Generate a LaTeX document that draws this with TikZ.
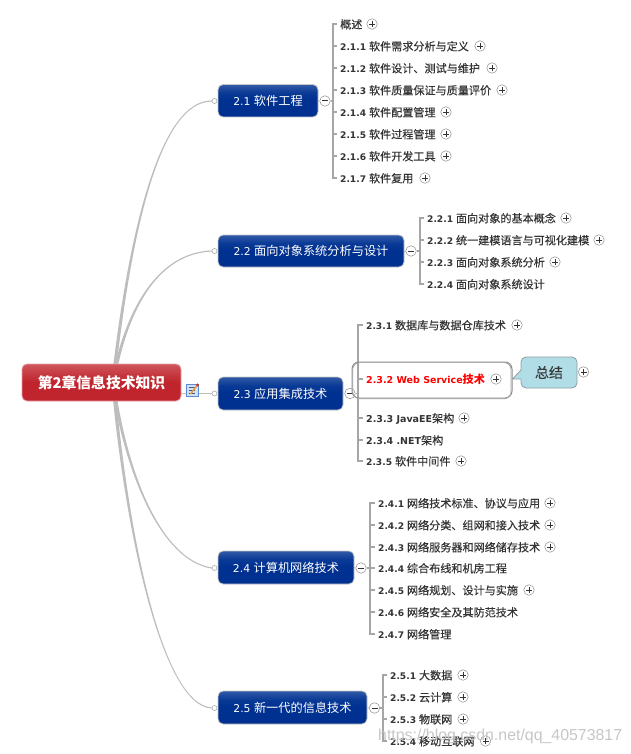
\documentclass[tikz,border=0pt]{standalone}
\usepackage{fontspec}
\setmainfont{DejaVu Sans}
\newfontfamily\cjk{Noto Sans CJK SC}
\newfontfamily\cjkm[FakeBold=0.2]{Noto Sans CJK SC}
\newfontfamily\wmfont{Liberation Sans}
\newcommand\zh[1]{{\cjk #1}}
\newcommand\lz[1]{{\cjkm\fontsize{11.1}{13}\selectfont #1}}
\newcommand\bz[1]{{\cjk\fontsize{12.2}{14}\selectfont #1}}
\newcommand\wl[1]{{\fontsize{9.5}{13}\selectfont\bfseries #1}}
\usetikzlibrary{calc}
\definecolor{trunk}{HTML}{BDBDBD}
\definecolor{btn}{HTML}{8C8C8C}
\definecolor{inktext}{HTML}{333333}
\definecolor{brk}{HTML}{A6A6A6}
\definecolor{bluea}{HTML}{003090}
\definecolor{blueb}{HTML}{0A3A96}
\definecolor{bluec}{HTML}{7D97C6}
\definecolor{reda}{HTML}{C0242C}
\definecolor{redb}{HTML}{C63A42}
\definecolor{redc}{HTML}{E48A90}
\definecolor{redline}{HTML}{E8A0A4}
\definecolor{boxline}{HTML}{C8C8C8}
\definecolor{noteline}{HTML}{5B8BD6}
\definecolor{notefill}{HTML}{CFE0F5}
\definecolor{notetext}{HTML}{555577}
\definecolor{pencil}{HTML}{E0A030}
\definecolor{pencilend}{HTML}{D83020}
\definecolor{hlone}{HTML}{8C8C8C}
\definecolor{hltwo}{HTML}{A6A6A6}
\definecolor{sumline}{HTML}{8E9EA3}
\definecolor{sumfill}{HTML}{B0DDE6}
\definecolor{sumtext}{HTML}{3A3A3A}
\pgfdeclareverticalshading{bluegloss}{100bp}{
  color(0bp)=(bluea); color(50bp)=(bluea); color(62bp)=(blueb); color(100bp)=(bluec)}
\pgfdeclareverticalshading{redgloss}{100bp}{
  color(0bp)=(reda); color(50bp)=(reda); color(62bp)=(redb); color(100bp)=(redc)}
\tikzset{
  x=1pt,y=-1pt,
  rootbox/.style={draw=redline,line width=.8pt,rounded corners=5pt,shading=redgloss,inner sep=0pt,
    text=white,font=\fontsize{14.8}{17}\selectfont\bfseries,align=center},
  branchbox/.style={draw=boxline,line width=.8pt,rounded corners=5pt,shading=bluegloss,inner sep=0pt,
    text=white,font=\fontsize{10.8}{14}\selectfont,align=center},
  leaf/.style={anchor=west,inner sep=0pt,text height=10pt,text depth=1pt,text=inktext,font=\fontsize{9.1}{13}\selectfont},
  plusbtn/.style={circle,draw=btn,fill=white,line width=.5pt,minimum size=10.5pt,inner sep=0pt,
    path picture={\draw[line width=.9pt,black!80] ([xshift=-3pt]path picture bounding box.center)--([xshift=3pt]path picture bounding box.center);
      \draw[line width=.9pt,black!80] ([yshift=-3pt]path picture bounding box.center)--([yshift=3pt]path picture bounding box.center);}},
  minusbtn/.style={circle,draw=btn,fill=white,line width=.5pt,minimum size=10.5pt,inner sep=0pt,
    path picture={\draw[line width=1pt,black!80] ([xshift=-3pt]path picture bounding box.center)--([xshift=3pt]path picture bounding box.center);}},
  portbtn/.style={circle,draw=btn!80,fill=white,line width=.5pt,minimum size=5pt,inner sep=0pt},
  brkline/.style={draw=brk,line width=1.1pt,shorten >=3pt},
  thinlink/.style={draw=trunk,line width=1pt},
}
\newcommand\branch[6]{% name, left, top, right, bottom, text
  \pgfmathsetmacro\bw{#4-#2}\pgfmathsetmacro\bh{#5-#3}
  \node[branchbox,minimum width=\bw pt,minimum height=\bh pt] (#1) at ({(#2+#4)/2},{(#3+#5)/2}) {#6};}
\newcommand\lf[4]{% name, x, y, text
  \node[leaf] (#1) at (#2,#3) {#4};}
\newcommand\pl[2]{% leaf name, x
  \node[plusbtn] (#1p) at (#2,0 |- #1.west) {};}
% tapered curve from the root point to a port: port, c1x, c1y, c2x, c2y, side (-1 up, +1 down)
\newcommand\taper[6]{%
  \fill[trunk] ($(rc)+(-1.7,0)$)
    .. controls ($(#2,#3)+(-1.3,0)$) and ($(#4,#5)+(0,{#6*.8})$) .. ($(#1.west)+(0,{#6*.55})$)
    -- ($(#1.west)+(0,{-#6*.55})$)
    .. controls ($(#4,#5)+(0,{-#6*.8})$) and ($(#2,#3)+(1.3,0)$) .. ($(rc)+(1.7,0)$) -- cycle;}
\begin{document}
\begin{tikzpicture}
\useasboundingbox (0,0) rectangle (631,754);
\fill[white] (0,0) rectangle (631,754);

% ports
\node[portbtn] (c1) at (214.5,101) {};
\node[portbtn] (c2) at (214.5,251) {};
\node[portbtn] (c3) at (214.5,393.5) {};
\node[portbtn] (c4) at (214.5,568) {};
\node[portbtn] (c5) at (214.5,708) {};
\coordinate (rc) at (113,382);

% main curves
\taper{c1}{130}{230}{160}{101}{-1}
\taper{c2}{127}{305}{160}{253}{-1}
\taper{c4}{125}{470}{160}{560}{1}
\taper{c5}{125}{520}{160}{705}{1}

\node[rootbox,minimum width=159pt,minimum height=37pt] (root) at (101.5,382.5) {\zh{第2章信息技术知识}};
\node[draw=noteline,fill=notefill,line width=.8pt,minimum size=12pt,inner sep=0pt] (note) at (192.5,390) {};
\draw[line width=.5pt,notetext] ([shift={(-4,-3)}]note.center) -- ++(6,0) ([shift={(-4,0)}]note.center) -- ++(6,0) ([shift={(-4,3)}]note.center) -- ++(6,0);
\draw[line width=1.4pt,pencil] ([shift={(-2,4)}]note.center) -- ([shift={(4,-4)}]note.center);
\fill[pencilend] ([shift={(5,-5)}]note.center) circle (1.7pt);
\draw[thinlink] (root.east |- c3) -- (note.west |- c3);
\draw[thinlink] (note.east |- c3) -- (c3.west);

% branches
\branch{b1}{218}{84.5}{318}{117}{2.1 \bz{软件工程}}
\branch{b2}{218}{235}{404}{267}{2.2 \bz{面向对象系统分析与设计}}
\branch{b3}{218}{377}{343}{410}{2.3 \bz{应用集成技术}}
\branch{b4}{218}{551}{354}{584}{2.4 \bz{计算机网络技术}}
\branch{b5}{218}{691}{367}{724}{2.5 \bz{新一代的信息技术}}

\node[minusbtn] (m1) at (325,101) {};
\node[minusbtn] (m2) at (411,251) {};
\node[minusbtn] (m3) at (350,393.5) {};
\node[minusbtn] (m4) at (361,568) {};
\node[minusbtn] (m5) at (374.5,708) {};
\coordinate (t1) at (333,101);
\coordinate (t2) at (420,251);
\coordinate (t3) at (358,393.5);
\coordinate (t4) at (370,568);
\coordinate (t5) at (383,708);
\foreach \b in {1,...,5} {\draw[thinlink,line width=.8pt] (b\b.east) -- (m\b.west); \draw[brkline,shorten >=0pt] (m\b.east) -- (t\b);}

% 2.1 leaves
\lf{a0}{340}{24}{\lz{概述}}
\lf{a1}{340}{46}{\textbf{2.1.1} \lz{软件需求分析与定义}}
\lf{a2}{340}{68}{\textbf{2.1.2} \lz{软件设计、测试与维护}}
\lf{a3}{340}{90}{\textbf{2.1.3} \lz{软件质量保证与质量评价}}
\lf{a4}{340}{112}{\textbf{2.1.4} \lz{软件配置管理}}
\lf{a5}{340}{134}{\textbf{2.1.5} \lz{软件过程管理}}
\lf{a6}{340}{156}{\textbf{2.1.6} \lz{软件开发工具}}
\lf{a7}{340}{178}{\textbf{2.1.7} \lz{软件复用}}
\foreach \n in {a0,a1,a2,a3,a4,a5,a6,a7} \draw[brkline] (t1) |- (\n.west);
\pl{a0}{372}\pl{a1}{480}\pl{a2}{492}\pl{a3}{502}\pl{a4}{446}\pl{a5}{446}\pl{a6}{446}\pl{a7}{425}

% 2.2 leaves
\lf{d1}{427}{218}{\textbf{2.2.1} \lz{面向对象的基本概念}}
\lf{d2}{427}{240}{\textbf{2.2.2} \lz{统一建模语言与可视化建模}}
\lf{d3}{427}{262}{\textbf{2.2.3} \lz{面向对象系统分析}}
\lf{d4}{427}{284}{\textbf{2.2.4} \lz{面向对象系统设计}}
\foreach \n in {d1,d2,d3,d4} \draw[brkline] (t2) |- (\n.west);
\pl{d1}{566}\pl{d2}{599}\pl{d3}{555}

% 2.3 leaves
\lf{e1}{366}{325}{\textbf{2.3.1} \lz{数据库与数据仓库技术}}
\lf{e2}{366}{379}{\textcolor{red}{\wl{2.3.2 Web Service}{\cjk\fontsize{11.1}{13}\selectfont\bfseries 技术}}}
\lf{e3}{366}{418}{\wl{2.3.3 JavaEE}\lz{架构}}
\lf{e4}{366}{440}{\wl{2.3.4 .NET}\lz{架构}}
\lf{e5}{366}{461}{\textbf{2.3.5} \lz{软件中间件}}
\foreach \n in {e1,e2,e3,e4,e5} \draw[brkline] (t3) |- (\n.west);
\pl{e1}{517}\pl{e2}{496}\pl{e3}{464}\pl{e5}{461}

% highlight and summary
\node[draw=hlone,line width=1pt,rounded corners=7pt,minimum width=160pt,minimum height=36pt,inner sep=0pt] (hl) at (432,380) {};
\draw[hltwo,line width=.7pt,rounded corners=7pt] (352.8,362.6) rectangle (511,398.8);
\node[draw=sumline,fill=sumfill,line width=.8pt,rounded corners=5pt,minimum width=56pt,minimum height=31pt,inner sep=0pt,text=sumtext,font=\cjkm\fontsize{14}{16}\selectfont] (sum) at (549,372.5) {总结};
\coordinate (tipa) at (521,370);
\coordinate (tipb) at (521,379);
\fill[sumfill] ([xshift=.8pt]tipa) -- (hl.east |- e2) -- ([xshift=.8pt]tipb) -- cycle;
\draw[sumline,line width=.8pt] (tipa) -- (hl.east |- e2) -- (tipb);
\node[plusbtn] (sump) at (583.5,372) {};

% 2.4 leaves
\lf{f1}{378}{503}{\textbf{2.4.1} \lz{网络技术标准、协议与应用}}
\lf{f2}{378}{525}{\textbf{2.4.2} \lz{网络分类、组网和接入技术}}
\lf{f3}{378}{547}{\textbf{2.4.3} \lz{网络服务器和网络储存技术}}
\lf{f4}{378}{568}{\textbf{2.4.4} \lz{综合布线和机房工程}}
\lf{f5}{378}{590}{\textbf{2.4.5} \lz{网络规划、设计与实施}}
\lf{f6}{378}{612}{\textbf{2.4.6} \lz{网络安全及其防范技术}}
\lf{f7}{378}{634}{\textbf{2.4.7} \lz{网络管理}}
\foreach \n in {f1,f2,f3,f4,f5,f6,f7} \draw[brkline] (t4) |- (\n.west);
\pl{f1}{550}\pl{f2}{550}\pl{f3}{550}\pl{f5}{529}

% 2.5 leaves
\lf{g1}{390}{675}{\textbf{2.5.1} \lz{大数据}}
\lf{g2}{390}{697}{\textbf{2.5.2} \lz{云计算}}
\lf{g3}{390}{719}{\textbf{2.5.3} \lz{物联网}}
\lf{g4}{390}{741}{\textbf{2.5.4} \lz{移动互联网}}
\foreach \n in {g1,g2,g3,g4} \draw[brkline] (t5) |- (\n.west);
\pl{g1}{463}\pl{g2}{463}\pl{g3}{463}\pl{g4}{485.5}

% watermark
\node[anchor=west,inner sep=0pt,text=black!22,font=\wmfont\fontsize{15.9}{18}\selectfont] (wm) at (378,736) {https://blog.csdn.net/qq\_40573817};
\end{tikzpicture}
\end{document}
